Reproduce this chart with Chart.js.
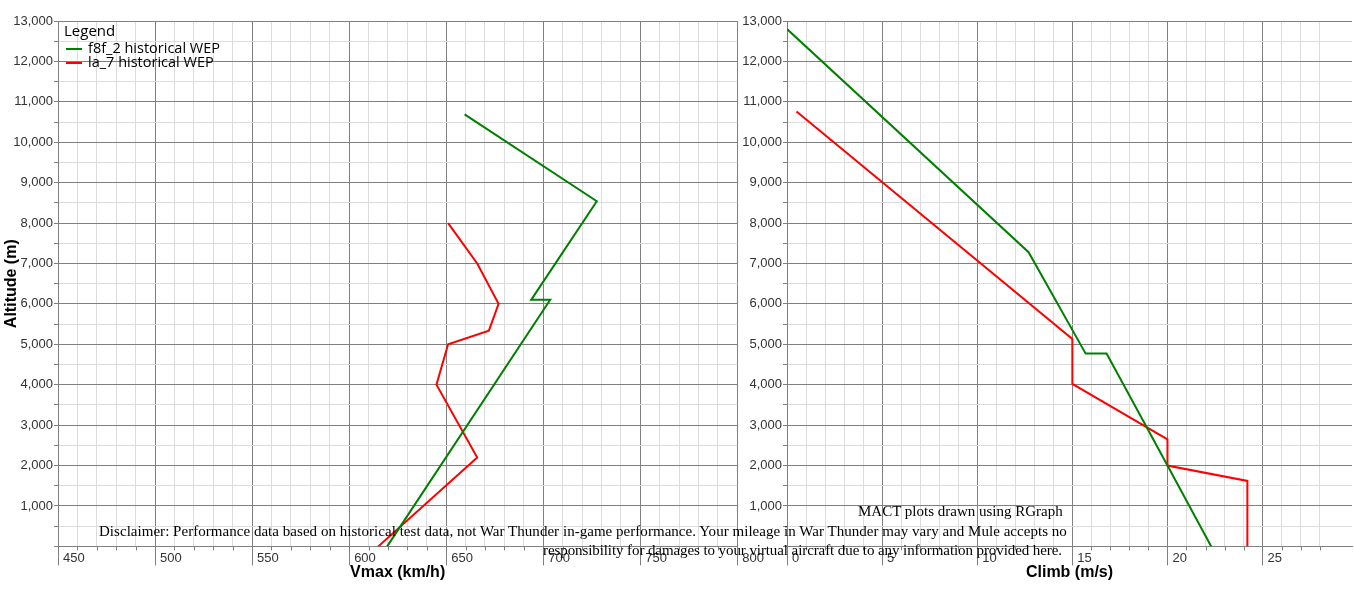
<!DOCTYPE html>
<html>
<head>
<meta charset="utf-8">
<script src="https://cdn.jsdelivr.net/npm/chart.js@4.4.1/dist/chart.umd.min.js"></script>
<style>
  body { margin: 0; background: #fff; width: 1354px; height: 598px; overflow: hidden; position: relative; }
  canvas { position: absolute; top: 0; }
  .note { position: absolute; font: 15px "Liberation Serif", "Times New Roman", serif; color: #000; white-space: nowrap; line-height: 19px; }
</style>
</head>
<body>
<canvas id="vmaxChart" width="800" height="598" style="left:0"></canvas>
<canvas id="climbChart" width="617" height="598" style="left:737px"></canvas>
<div class="note" style="left:858px; top:502px">MACT plots drawn using RGraph</div>
<div class="note" style="left:99px; top:522px; letter-spacing:0.033px">Disclaimer: Performance data based on historical test data, not War Thunder in-game performance. Your mileage in War Thunder may vary and Mule accepts no</div>
<div class="note" style="left:543px; top:541px; letter-spacing:-0.09px">responsibility for damages to your virtual aircraft due to any information provided here.</div>
<script>
// altitude (m) / value pairs
var f8fVmaxAlt = [0, 6100, 6100, 8540, 10690];
var f8fVmax    = [619.6, 703.6, 693.8, 727.6, 659.5];
var la7VmaxAlt = [0, 2200, 4000, 5000, 5340, 6000, 7000, 8000];
var la7Vmax    = [615, 666, 645, 651, 672, 677, 666, 651];

var f8fClimbAlt = [0, 2000, 4770, 4770, 7280, 12800];
var f8fClimb    = [22.3, 20.0, 16.8, 15.7, 12.7, 0];
var la7ClimbAlt = [0, 1620, 2000, 2650, 4020, 5130, 10760];
var la7Climb    = [24.2, 24.2, 20.0, 20.0, 15.0, 15.0, 0.5];

var seriesNames = ['f8f_2 historical WEP', 'la_7 historical WEP'];
var seriesColors = ['#008000', '#ff0000'];

var altTicks = { min: 0, max: 13000, step: 500, major: 1000 };
var vmaxTicks = { min: 450, max: 800, step: 10, major: 50 };
var climbTicks = { min: 0, max: 29.7, step: 1, major: 5 };

var MAJOR = '#808080', MINOR = '#dcdcdc';

function pairs(xs, ys) {
    return xs.map(function(x, i) { return { x: x, y: ys[i] }; });
}

function isMajor(v, m) {
    return Math.abs(v / m - Math.round(v / m)) < 1e-6;
}

function makeDataset(i, xs, ys) {
    return {
        label: seriesNames[i],
        data: pairs(xs, ys),
        showLine: true,
        borderColor: seriesColors[i],
        backgroundColor: seriesColors[i],
        borderWidth: 2,
        pointRadius: 0,
        tension: 0
    };
}

// little extras that RGraph draws: short minor ticks under x axis, legend box
var rgraphBits = {
    id: 'rgraphBits',
    afterDraw: function(chart) {
        var ctx = chart.ctx;
        var xs = chart.scales.x;
        var bottom = chart.chartArea.bottom;
        var m = chart.options.plugins.rgraphBits.major;
        ctx.save();
        ctx.strokeStyle = MAJOR;
        ctx.lineWidth = 1;
        xs.ticks.forEach(function(t) {
            if (isMajor(t.value, m) || t.value > xs.max - 0.5) return;
            var px = Math.round(xs.getPixelForValue(t.value)) + 0.5;
            ctx.beginPath();
            ctx.moveTo(px, bottom);
            ctx.lineTo(px, bottom + 4);
            ctx.stroke();
        });
        if (chart.options.plugins.rgraphBits.legend) {
            var left = chart.chartArea.left;
            ctx.fillStyle = '#000';
            ctx.font = '15px "Open Sans", sans-serif';
            ctx.textBaseline = 'alphabetic';
            ctx.fillText('Legend', left + 6, 36);
            ctx.font = '14.5px "Open Sans", sans-serif';
            chart.data.datasets.forEach(function(ds, i) {
                var y = 49 + i * 14;
                ctx.strokeStyle = ds.borderColor;
                ctx.lineWidth = 2;
                ctx.beginPath();
                ctx.moveTo(left + 8, y);
                ctx.lineTo(left + 24, y);
                ctx.stroke();
                ctx.fillStyle = '#000';
                ctx.fillText(ds.label, left + 30, y + 4);
            });
        }
        ctx.restore();
    }
};

function altitudeAxis(width, showTitle) {
    return {
        type: 'linear',
        min: altTicks.min,
        max: altTicks.max,
        afterFit: function(s) { s.width = width; },
        ticks: {
            stepSize: altTicks.step,
            padding: 1,
            color: '#333',
            font: { family: 'Liberation Sans, Arial', size: 13 },
            callback: function(v) {
                if (v === 0 || !isMajor(v, altTicks.major)) return '';
                return v.toLocaleString('en-US');
            }
        },
        grid: {
            color: function(c) { return isMajor(c.tick.value, altTicks.major) ? MAJOR : MINOR; },
            tickColor: MAJOR,
            tickLength: 4
        },
        border: { color: MAJOR },
        title: {
            display: showTitle,
            text: 'Altitude (m)',
            color: '#000',
            font: { family: 'Liberation Sans, Arial', size: 16, weight: 'bold' },
            padding: { top: 2, bottom: 0 }
        }
    };
}

function valueAxis(cfg, title) {
    return {
        type: 'linear',
        min: cfg.min,
        max: cfg.max,
        afterFit: function(s) { s.height = 51.6; },
        ticks: {
            stepSize: cfg.step,
            autoSkip: false,
            maxRotation: 0,
            align: 'start',
            labelOffset: 5,
            padding: -15,
            color: '#333',
            font: { family: 'Liberation Sans, Arial', size: 13 },
            callback: function(v) { return isMajor(v, cfg.major) ? String(v) : ''; }
        },
        grid: {
            color: function(c) {
                var v = c.tick.value;
                if (!isMajor(v, cfg.step)) return 'rgba(0,0,0,0)';
                return isMajor(v, cfg.major) ? MAJOR : MINOR;
            },
            tickColor: function(c) { return isMajor(c.tick.value, cfg.major) ? MAJOR : 'rgba(0,0,0,0)'; },
            tickLength: 19
        },
        border: { color: MAJOR },
        title: {
            display: true,
            text: title,
            color: '#000',
            font: { family: 'Liberation Sans, Arial', size: 16, weight: 'bold' },
            padding: { top: 0, bottom: 16 }
        }
    };
}

function populateChart(chartId, datasets, xCfg, xTitle, yWidth, showYTitle, padRight, showLegend) {
    var ctx = document.getElementById(chartId).getContext('2d');
    return new Chart(ctx, {
        type: 'scatter',
        data: { datasets: datasets },
        options: {
            responsive: false,
            animation: false,
            layout: { padding: { top: 21, left: 0, right: padRight, bottom: 0 } },
            scales: {
                x: valueAxis(xCfg, xTitle),
                y: altitudeAxis(yWidth, showYTitle)
            },
            plugins: {
                legend: { display: false },
                tooltip: { enabled: false },
                rgraphBits: { major: xCfg.major, legend: showLegend }
            }
        },
        plugins: [rgraphBits]
    });
}

populateChart('vmaxChart', [
    makeDataset(0, f8fVmax, f8fVmaxAlt),
    makeDataset(1, la7Vmax, la7VmaxAlt)
], vmaxTicks, 'Vmax (km/h)', 58, true, 62.7, true);

populateChart('climbChart', [
    makeDataset(0, f8fClimb, f8fClimbAlt),
    makeDataset(1, la7Climb, la7ClimbAlt)
], climbTicks, 'Climb (m/s)', 50, false, 2, false);
</script>
</body>
</html>
